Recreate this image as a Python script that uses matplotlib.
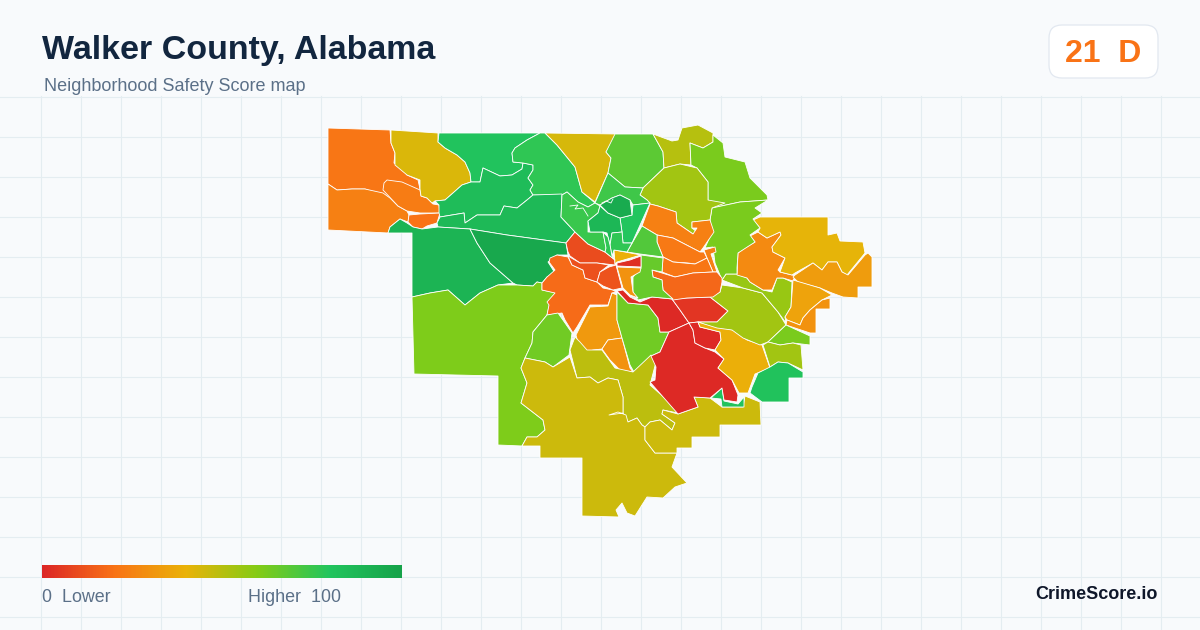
import matplotlib
matplotlib.use("Agg")
import numpy as np
import matplotlib.pyplot as plt
from matplotlib.colors import LinearSegmentedColormap
from matplotlib.patches import Polygon, FancyBboxPatch

plt.rcParams['font.family'] = ['Liberation Sans', 'DejaVu Sans']

TITLE = "Walker County, Alabama"
SUBTITLE = "Neighborhood Safety Score map"
BADGE = "21  D"
BRAND = "CrimeScore.io"
SCALE_LOW = "0  Lower"
SCALE_HIGH = "Higher  100"

score_stops = [0, 20, 40, 60, 80, 100]
stop_colors = ["#dc2626", "#f97316", "#eab308", "#84cc16", "#22c55e", "#16a34a"]

# Tract outlines, in map units, listed bottom to top. Each is paired with a score in TRACTS.
nw_orange = [(328,128),(390,130),(391,143),(395,153),(394,163),(402,168),(407,175),(418,180),(420,189),(421,196),(427,198),(433,204),(420,200),(398,206),(390,198),(383,195),(365,189),(352,189),(337,190),(328,184)]
sw_orange = [(328,184),(337,190),(352,189),(365,189),(383,193),(390,198),(398,206),(407,211),(409,215),(408,222),(400,219),(390,227),(388,233),(328,230)]
inner_orange = [(387,180),(402,182),(420,190),(421,196),(427,198),(433,204),(439,205),(440,213),(420,213),(407,211),(398,206),(383,190),(384,183)]
small_orange = [(409,215),(420,214),(440,213),(437,223),(427,226),(422,229),(413,227),(408,222)]
nw_gold = [(391,130),(438,133),(438,142),(445,148),(457,155),(465,162),(470,173),(471,182),(462,185),(453,193),(445,200),(435,201),(432,203),(427,198),(421,196),(420,189),(420,180),(407,175),(395,165),(395,153),(391,143)]
n_green = [(439,133),(540,133),(527,140),(515,148),(512,153),(513,162),(523,163),(522,169),(512,175),(500,176),(483,168),(480,182),(471,182),(470,173),(465,162),(457,155),(445,148),(438,142)]
n_squiggle = [(471,182),(480,182),(483,168),(500,176),(512,175),(522,169),(523,163),(533,165),(533,170),(528,178),(533,185),(530,190),(533,195),(527,200),(517,208),(504,206),(500,215),(477,215),(465,223),(464,213),(440,217),(439,213),(439,205),(435,201),(445,200),(453,193),(462,185)]
n_light = [(540,133),(545,133),(557,145),(575,167),(582,192),(595,203),(588,207),(578,202),(567,192),(562,195),(533,195),(530,190),(533,185),(528,178),(533,170),(533,165),(523,163),(513,162),(512,153),(515,148),(527,140)]
mid_green = [(440,217),(464,213),(465,223),(477,215),(500,215),(504,206),(517,208),(527,200),(533,195),(562,194),(561,217),(575,232),(566,243),(507,235),(470,229),(438,227),(437,223)]
w_green = [(388,233),(390,227),(400,219),(407,223),(413,227),(422,229),(438,227),(470,229),(477,243),(490,263),(513,283),(498,285),(480,293),(465,305),(448,290),(430,293),(412,297),(412,233)]
dark_green = [(470,229),(507,235),(566,243),(568,255),(557,255),(548,262),(555,273),(547,277),(542,283),(537,282),(533,286),(517,285),(513,283),(490,263),(477,243)]
sw_lime = [(412,297),(430,293),(448,290),(465,305),(480,293),(498,285),(517,285),(533,286),(537,282),(542,283),(542,290),(557,293),(550,302),(547,315),(533,332),(532,343),(525,358),(521,368),(527,383),(521,403),(543,420),(545,430),(537,437),(527,437),(522,446),(498,445),(498,376),(414,374)]
c_orange = [(550,258),(557,255),(568,257),(572,265),(583,270),(585,278),(597,282),(603,288),(613,290),(616,292),(612,293),(608,305),(590,305),(577,327),(573,333),(565,320),(562,313),(547,315),(549,305),(547,302),(555,293),(542,290),(542,283),(547,277),(555,270),(549,262)]
red_orange_a = [(566,243),(575,232),(588,244),(605,252),(615,260),(615,265),(597,263),(580,263),(570,256),(568,252)]
red_orange_b = [(568,256),(580,263),(597,263),(609,265),(600,272),(597,282),(585,278),(583,270),(572,265)]
red_orange_c = [(616,265),(622,288),(613,290),(603,286),(597,282),(600,272),(609,267)]
c_gold_s = [(612,293),(617,295),(617,320),(622,338),(608,340),(602,349),(593,350),(587,352),(578,343),(576,335),(590,307),(608,306)]
c_orange_s = [(622,338),(630,368),(633,372),(620,370),(610,360),(602,349),(608,340)]
lime_s = [(617,292),(628,303),(648,305),(658,318),(660,332),(669,332),(660,352),(651,356),(634,372),(630,365),(622,338),(617,320)]
lime_sw = [(533,332),(547,315),(558,313),(572,333),(569,355),(553,367),(545,362),(525,358),(532,343)]
olive_e = [(575,337),(580,342),(587,350),(602,350),(615,368),(633,372),(651,355),(656,362),(650,385),(667,400),(678,413),(663,410),(662,414),(675,423),(672,430),(660,420),(650,422),(645,427),(642,425),(637,418),(628,422),(623,413),(623,397),(618,380),(608,378),(598,383),(590,377),(577,378),(570,350)]
olive_w = [(525,358),(545,362),(553,367),(570,357),(577,378),(590,377),(598,383),(608,378),(618,380),(623,397),(623,413),(609,415),(618,412),(626,415),(628,422),(637,418),(642,425),(645,427),(645,440),(655,453),(677,453),(672,467),(687,483),(675,487),(663,498),(647,497),(635,516),(627,513),(622,503),(616,510),(619,517),(582,516),(582,458),(540,458),(540,446),(522,446),(527,437),(537,437),(545,430),(543,420),(521,403),(527,383),(521,368)]
olive_s = [(645,427),(650,422),(660,420),(672,430),(675,423),(662,414),(663,410),(678,414),(698,407),(694,397),(710,398),(722,407),(743,407),(745,396),(760,402),(761,425),(720,425),(720,437),(692,437),(692,448),(677,448),(677,453),(655,453),(645,440)]
tiny_green = [(711,398),(722,388),(724,401),(738,404),(744,397),(744,407),(722,407),(721,399)]
red_n_left = [(617,291),(628,303),(648,305),(658,318),(660,332),(669,332),(689,323),(680,310),(672,299),(652,297),(640,302),(630,297),(623,290)]
red_n_right = [(672,299),(687,298),(710,297),(728,311),(717,322),(698,322),(689,323),(680,310)]
red_big = [(669,332),(689,323),(693,330),(695,343),(705,348),(715,352),(724,359),(718,368),(732,380),(738,395),(737,402),(724,400),(722,388),(710,398),(694,397),(698,407),(678,414),(650,382),(655,380),(656,367),(651,356),(660,352)]
red_small = [(689,323),(698,322),(700,327),(720,332),(721,340),(715,350),(705,348),(695,343),(693,330)]
se_gold = [(698,322),(717,327),(733,330),(747,340),(762,345),(770,368),(755,374),(748,393),(739,393),(732,380),(718,368),(724,359),(715,350),(721,340),(720,332),(700,327)]
lime_c = [(698,322),(717,322),(728,311),(710,297),(720,292),(722,285),(743,288),(762,293),(778,312),(786,325),(768,342),(760,345),(743,338),(732,330),(717,328)]
lime_c_n = [(722,280),(726,274),(737,274),(747,278),(750,282),(763,290),(772,292),(777,278),(783,278),(792,282),(791,307),(785,317),(786,323),(778,312),(762,293),(743,288)]
e_orange = [(758,232),(767,238),(780,232),(781,235),(772,247),(773,252),(785,258),(778,270),(780,272),(792,275),(795,276),(793,281),(783,278),(777,278),(772,290),(763,290),(750,282),(747,278),(737,275),(738,253),(745,248),(755,242),(750,236)]
ne_gold = [(753,220),(760,217),(828,217),(828,235),(837,233),(840,241),(863,242),(865,253),(847,275),(842,272),(837,262),(828,262),(822,270),(813,263),(795,273),(792,275),(780,272),(785,258),(773,252),(772,247),(781,235),(780,232),(767,238),(758,232),(760,228)]
e_strip = [(795,275),(813,263),(822,270),(828,262),(837,262),(842,272),(848,275),(865,255),(868,253),(872,257),(872,287),(858,287),(858,298),(843,297),(832,293),(820,288),(798,282),(793,277)]
se_orange = [(793,280),(820,288),(832,295),(822,300),(810,310),(803,318),(800,325),(787,320),(785,317),(791,307)]
se_orange_d = [(787,320),(800,325),(803,318),(810,310),(822,300),(830,298),(830,309),(816,309),(816,333),(810,333),(786,325)]
se_lime = [(786,325),(810,336),(810,345),(793,343),(780,345),(768,342)]
se_lime_y = [(768,342),(780,345),(793,343),(801,345),(803,370),(788,363),(778,362),(770,367),(763,345)]
se_green = [(752,387),(758,373),(770,367),(778,362),(788,363),(803,372),(803,378),(789,378),(789,402),(762,402),(750,393)]
n_gold = [(545,133),(617,134),(606,152),(611,158),(608,173),(595,202),(582,192),(575,167),(557,145)]
n_lime = [(615,134),(653,134),(663,152),(664,168),(643,188),(625,187),(608,173),(611,158),(606,152)]
n_olive = [(653,134),(672,141),(678,140),(682,128),(698,125),(713,133),(713,142),(703,148),(690,143),(691,165),(680,164),(664,168),(663,152)]
ne_lime = [(690,143),(703,148),(713,142),(713,135),(723,143),(725,157),(745,162),(750,178),(767,195),(768,200),(740,202),(712,208),(708,200),(708,182),(697,168),(691,165)]
e_lime = [(712,208),(740,202),(768,200),(755,208),(762,213),(753,219),(760,228),(750,235),(755,242),(738,253),(737,268),(737,274),(726,274),(722,280),(715,263),(713,247),(705,248),(712,232),(710,220)]
n_lime_y = [(664,168),(680,164),(697,168),(708,182),(708,200),(725,203),(712,208),(710,220),(692,222),(692,228),(697,232),(693,234),(677,223),(676,212),(658,206),(650,204),(647,200),(640,195),(643,188)]
up_orange = [(658,206),(676,212),(677,223),(693,234),(697,228),(692,228),(692,222),(710,220),(714,232),(703,248),(700,252),(673,238),(657,235),(642,226),(650,204)]
orange_b = [(657,235),(673,238),(700,252),(704,252),(707,258),(695,264),(688,263),(673,262),(663,257),(657,242)]
orange_strip = [(704,250),(715,247),(716,252),(711,254),(717,272),(713,272),(707,258)]
orange_c = [(663,257),(673,262),(695,264),(707,258),(713,272),(693,273),(675,277),(662,272)]
orange_d = [(652,270),(662,273),(675,277),(693,273),(713,272),(717,272),(722,278),(722,282),(720,292),(713,297),(687,298),(673,300),(663,290),(662,280),(653,277)]
mid_lime = [(642,226),(657,235),(657,242),(663,257),(640,254),(627,252)]
low_lime = [(641,255),(663,258),(662,272),(652,270),(653,277),(662,280),(663,290),(673,299),(652,297),(638,300),(633,293),(633,277),(641,268)]
tiny_gold = [(614,250),(625,252),(641,255),(617,262),(615,264)]
tiny_red = [(617,263),(630,260),(641,256),(641,267),(617,266)]
tiny_orange = [(617,267),(641,268),(640,272),(631,277),(633,292),(638,298),(630,295),(623,288)]
region_d = [(600,205),(595,203),(608,173),(625,187),(643,188),(640,195),(647,200),(650,203),(633,205),(630,200),(620,195),(612,198)]
region_a = [(562,195),(567,192),(578,202),(588,207),(595,203),(600,206),(598,213),(588,221),(588,232),(590,232),(603,232),(606,248),(605,252),(588,244),(575,232),(561,217)]
region_c = [(620,218),(632,215),(633,205),(650,203),(632,243),(623,243),(622,232)]
region_e = [(588,221),(598,213),(600,206),(608,213),(620,218),(622,232),(612,233),(610,245),(607,233),(603,232),(590,232)]
region_f = [(612,233),(622,232),(623,243),(632,243),(627,252),(614,250),(612,256),(610,245)]
region_g = [(603,232),(608,237),(610,245),(612,256),(615,260),(605,252),(606,248)]
dark_center = [(600,205),(612,198),(620,195),(630,200),(632,215),(620,218),(608,213)]
center_creek = [(602,203),(606,201),(611,203),(613,199)]
west_creek = [(570,206),(578,205),(575,209),(583,208),(588,216)]

TRACTS = [nw_orange, sw_orange, inner_orange, small_orange, nw_gold, n_green, n_squiggle, n_light,
          mid_green, w_green, dark_green, sw_lime, c_orange, red_orange_a, red_orange_b, red_orange_c,
          c_gold_s, c_orange_s, lime_s, lime_sw, olive_e, olive_w, olive_s, tiny_green,
          red_n_left, red_n_right, red_big, red_small, se_gold, lime_c, lime_c_n, e_orange,
          ne_gold, e_strip, se_orange, se_orange_d, se_lime, se_lime_y, se_green, n_gold,
          n_lime, n_olive, ne_lime, e_lime, n_lime_y, up_orange, orange_b, orange_strip,
          orange_c, orange_d, mid_lime, low_lime, tiny_gold, tiny_red, tiny_orange,
          region_d, region_a, region_c, region_e, region_f, region_g, dark_center]
SCORES = [21, 24, 23, 20, 43, 81, 85, 77,
          87, 90, 97, 61, 18, 10, 11, 12,
          32, 30, 64, 64, 49, 46, 46, 82,
          1, 4, 1, 1, 39, 54, 56, 27,
          41, 33, 35, 30, 62, 54, 82, 44,
          68, 50, 62, 62, 54, 24, 22, 24,
          21, 17, 70, 66, 39, 2, 30,
          74, 75, 80, 88, 77, 77, 95]

cmap = LinearSegmentedColormap.from_list(
    "score", [(s / 100, c) for s, c in zip(score_stops, stop_colors)])

fig = plt.figure(figsize=(12, 6.3), dpi=100, facecolor="#f8fafc")
ax = fig.add_axes([0, 0, 1, 1])
ax.set_facecolor("#f8fafc")
ax.axis("off")

for gx in np.arange(40.5, 1200, 40):
    ax.plot([gx, gx], [96, 630], color="#e4edf1", lw=0.8, zorder=1)
for gy in np.arange(96.5, 630, 40):
    ax.plot([0, 1200], [gy, gy], color="#e4edf1", lw=0.8, zorder=1)

for outline, score in zip(TRACTS, SCORES):
    ax.add_patch(Polygon(outline, closed=True, facecolor=cmap(score / 100),
                         edgecolor="white", lw=0.6, joinstyle="round", zorder=3))
for creek in (center_creek, west_creek):
    ax.plot(*zip(*creek), color="white", lw=0.6, zorder=3.5)

ax.text(42, 59, TITLE, fontsize=24.5, fontweight="bold", color="#12263f", va="baseline", ha="left", zorder=5)
ax.text(44, 91, SUBTITLE, fontsize=12.95, color="#5b7088", va="baseline", ha="left", zorder=5)

ax.add_patch(FancyBboxPatch((1049, 25), 109, 53, boxstyle="round,pad=0,rounding_size=13",
                            facecolor="white", edgecolor="#e2e8f0", lw=0.9, zorder=4))
ax.text(1103, 62, BADGE, fontsize=23, fontweight="bold", color="#f97316", va="baseline", ha="center", zorder=5)

ax.imshow(np.linspace(0, 1, 360)[None, :], cmap=cmap, extent=(42, 402, 578, 565),
          aspect="auto", zorder=4, interpolation="bilinear")
ax.text(42, 602.5, SCALE_LOW, fontsize=12.85, color="#5b7088", va="baseline", ha="left", zorder=5)
ax.text(341, 602.5, SCALE_HIGH, fontsize=12.85, color="#5b7088", va="baseline", ha="right", zorder=5)
ax.text(1158, 599, BRAND, fontsize=13, fontweight="bold", color="#0f172a", va="baseline", ha="right", zorder=5)

ax.set_xlim(0, 1200)
ax.set_ylim(630, 0)
fig.savefig("out.png", dpi=100, facecolor=fig.get_facecolor())
